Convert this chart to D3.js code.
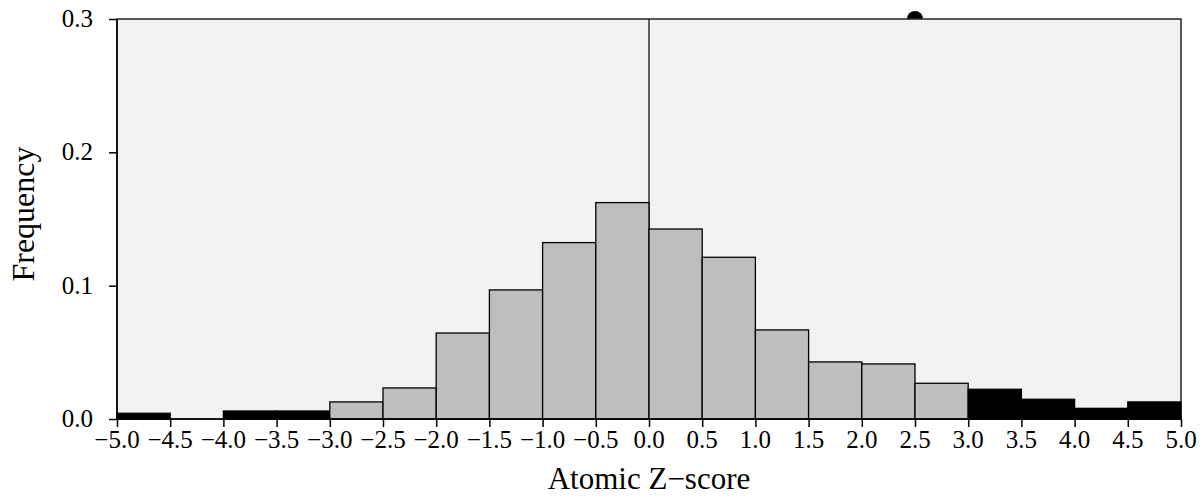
<!DOCTYPE html>
<html>
<head>
<meta charset="utf-8">
<script src="https://cdn.jsdelivr.net/npm/d3@7"></script>
<style>
  body { margin: 0; background: #fff; }
  text { font-family: "Liberation Serif", "DejaVu Serif", serif; }
</style>
</head>
<body>
<svg id="chart" width="1204" height="501"></svg>
<script>
// bin edges (left), bin heights and bar colour per bin
var binStarts = [-5.0, -4.5, -4.0, -3.5, -3.0, -2.5, -2.0, -1.5, -1.0, -0.5,
                 0.0, 0.5, 1.0, 1.5, 2.0, 2.5, 3.0, 3.5, 4.0, 4.5];
var freqs = [0.0043, 0.0, 0.006, 0.006, 0.0128, 0.0233, 0.0645, 0.0968, 0.1323, 0.1623,
             0.1425, 0.1213, 0.0668, 0.0428, 0.0413, 0.0268, 0.0223, 0.0148, 0.008, 0.0128];
var outlier = [1, 1, 1, 1, 0, 0, 0, 0, 0, 0, 0, 0, 0, 0, 0, 0, 1, 1, 1, 1];
var xTicks = [-5.0, -4.5, -4.0, -3.5, -3.0, -2.5, -2.0, -1.5, -1.0, -0.5,
              0.0, 0.5, 1.0, 1.5, 2.0, 2.5, 3.0, 3.5, 4.0, 4.5, 5.0];
var yTicks = [0.0, 0.1, 0.2, 0.3];
var marker = {x: 2.5, y: 0.3};

var svg = d3.select('#chart');
var pLeft = 117, pRight = 1181, pTop = 19, pBottom = 419;

var x = d3.scaleLinear().domain([-5, 5]).range([pLeft, pRight]);
var y = d3.scaleLinear().domain([0, 0.3]).range([pBottom, pTop]);
var fmt = function(d) { return d3.format('.1f')(d).replace('-', '\u2212'); };

// marker dot sits behind the panel
svg.append('circle')
    .attr('cx', x(marker.x))
    .attr('cy', y(marker.y))
    .attr('r', 8)
    .style('fill', 'black');

svg.append('rect')
    .attr('x', pLeft).attr('y', pTop)
    .attr('width', pRight - pLeft).attr('height', pBottom - pTop)
    .style('fill', '#f2f2f2')
    .style('stroke', '#222')
    .style('stroke-width', 1.5);

// zero line
svg.append('line')
    .attr('x1', x(0)).attr('x2', x(0))
    .attr('y1', y(0.3)).attr('y2', y(0))
    .style('stroke', 'black').style('stroke-width', 1.2);

var bars = binStarts.map(function(s, i) {
    return {x0: s, x1: s + 0.5, v: freqs[i], out: outlier[i]};
}).filter(function(d) { return d.v > 0; });

svg.append('g').selectAll('rect')
    .data(bars)
    .enter().append('rect')
    .attr('x', function(d) { return x(d.x0); })
    .attr('width', function(d) { return x(d.x1) - x(d.x0); })
    .attr('y', function(d) { return y(d.v); })
    .attr('height', function(d) { return y(0) - y(d.v); })
    .style('fill', function(d) { return d.out ? 'black' : '#bebebe'; })
    .style('stroke', 'black')
    .style('stroke-width', 1.3);

// axes: library draws the tick marks, labels placed from the same scales
var xAxis = svg.append('g')
    .attr('transform', 'translate(0,' + pBottom + ')')
    .call(d3.axisBottom(x).tickValues(xTicks).tickFormat('').tickSize(8));
var yAxis = svg.append('g')
    .attr('transform', 'translate(' + pLeft + ',0)')
    .call(d3.axisLeft(y).tickValues(yTicks).tickFormat('').tickSize(8));

[xAxis, yAxis].forEach(function(g) {
    g.select('.domain').style('stroke', 'black').style('stroke-width', 1.5);
    g.selectAll('.tick line').style('stroke', 'black').style('stroke-width', 1.5);
});
xAxis.select('.domain').attr('d', 'M' + pLeft + ',0H' + pRight);
yAxis.select('.domain').attr('d', 'M0,' + pBottom + 'V' + pTop);

svg.append('g').selectAll('text')
    .data(xTicks)
    .enter().append('text')
    .attr('x', function(d) { return x(d); })
    .attr('y', 448)
    .attr('text-anchor', 'middle')
    .style('font-size', '25px')
    .text(fmt);

svg.append('g').selectAll('text')
    .data(yTicks)
    .enter().append('text')
    .attr('x', 93)
    .attr('y', function(d) { return y(d) + 8; })
    .attr('text-anchor', 'end')
    .style('font-size', '25px')
    .text(fmt);

svg.append('text')
    .attr('x', (pLeft + pRight) / 2)
    .attr('y', 489)
    .attr('text-anchor', 'middle')
    .attr('font-size', 31)
    .text('Atomic Z\u2212score');

svg.append('text')
    .attr('transform', 'translate(34,214) rotate(-90)')
    .attr('text-anchor', 'middle')
    .attr('font-size', 32)
    .text('Frequency');
</script>
</body>
</html>
